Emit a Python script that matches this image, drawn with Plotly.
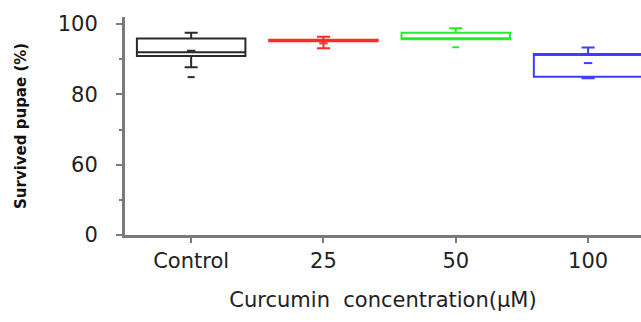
import plotly.graph_objects as go

# ---- data (the axis has a break: label "0" sits at 40) ----
categories = ["Control", "25", "50", "100"]
q1 = [90.9, 95.1, 95.7, 85.0]
median = [92.0, 95.3, 95.8, 91.5]
q3 = [95.9, 95.5, 97.5, 91.5]
lower_fence = [87.7, 93.1, 95.7, 84.6]
upper_fence = [97.5, 96.4, 98.8, 93.3]
means = [92.4, 94.5, 95.8, 88.9]
outlier_cat = ["Control", "50"]
outlier_val = [84.9, 93.4]
colors = ["#2a2a2a", "#ff2a2a", "#22f022", "#3d3dff"]

y_tickvals = [40, 60, 80, 100]
y_ticktext = ["0", "60", "80", "100"]

font_family = "DejaVu Sans"
text_color = "#222222"
axis_color = "#7a7a7a"

fig = go.Figure()
for i, c in enumerate(categories):
    fig.add_trace(go.Box(
        x=[c], q1=[q1[i]], median=[median[i]], q3=[q3[i]],
        lowerfence=[lower_fence[i]], upperfence=[upper_fence[i]],
        width=0.82, line=dict(color=colors[i], width=2),
        fillcolor="rgba(0,0,0,0)", whiskerwidth=0.12, showlegend=False,
        boxpoints=False, hoverinfo="skip",
    ))
    # mean mark
    fig.add_trace(go.Scatter(
        x=[c], y=[means[i]], mode="markers", showlegend=False,
        marker=dict(symbol="line-ew", size=6, line=dict(color=colors[i], width=2)),
        hoverinfo="skip",
    ))

# outliers
for c, v in zip(outlier_cat, outlier_val):
    i = categories.index(c)
    fig.add_trace(go.Scatter(
        x=[c], y=[v], mode="markers", showlegend=False,
        marker=dict(symbol="line-ew", size=5, line=dict(color=colors[i], width=2)),
        hoverinfo="skip",
    ))

fig.update_layout(
    width=641, height=322,
    margin=dict(l=125, r=0, t=17, b=87),
    plot_bgcolor="white", paper_bgcolor="white",
    font=dict(family=font_family, size=21, color=text_color),
    xaxis=dict(
        type="category", categoryorder="array", categoryarray=categories,
        range=[-0.5, 3.40], showgrid=False, zeroline=False,
        showline=True, linecolor=axis_color, linewidth=3,
        ticks="outside", ticklen=5, tickwidth=2, tickcolor=axis_color,
        tickfont=dict(size=21, color=text_color),
        title=dict(text="Curcumin  concentration(μM)", standoff=21,
                   font=dict(size=21, color=text_color)),
    ),
    yaxis=dict(
        range=[40, 102], showgrid=False, zeroline=False,
        showline=True, linecolor=axis_color, linewidth=3,
        tickvals=y_tickvals, ticktext=y_ticktext,
        ticks="outside", ticklen=6, tickwidth=2, tickcolor=axis_color,
        ticklabelstandoff=14,
        tickfont=dict(size=21, color=text_color),
        minor=dict(tickvals=[50, 70, 90], ticks="outside", ticklen=3,
                   tickwidth=2, tickcolor=axis_color),
    ),
    annotations=[dict(
        text="<b>Survived pupae (%)</b>", textangle=-90,
        xref="paper", yref="paper", x=0, y=0.5, xshift=-104,
        xanchor="center", yanchor="middle", showarrow=False,
        font=dict(size=15, color="#111111", family=font_family),
    )],
)

fig.write_html("out.html")
